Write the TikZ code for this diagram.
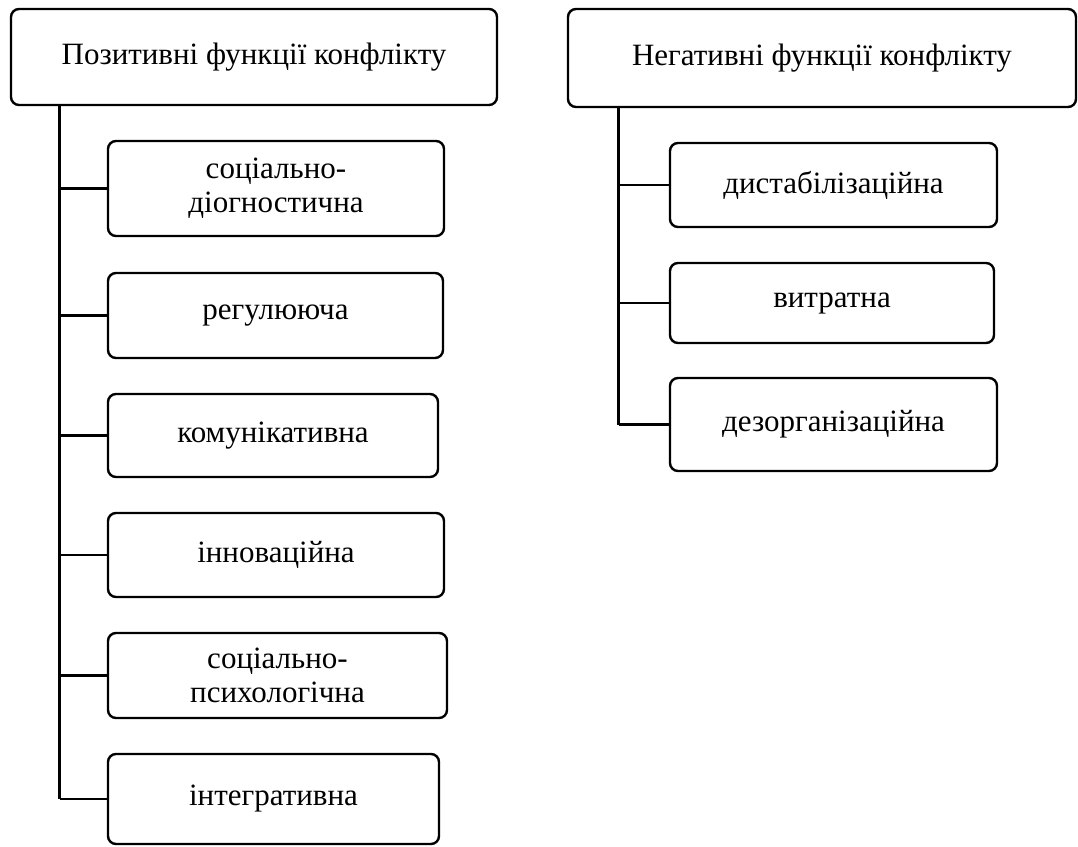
\documentclass[tikz,border=0pt]{standalone}
\usepackage{fontspec}
\setmainfont{Liberation Serif}
\begin{document}
\begin{tikzpicture}[x=1pt,y=-1pt,
  every node/.style={inner sep=0pt},
  fbox/.style={draw=black, line width=2.4pt, rounded corners=8pt, align=center,
    font=\fontsize{31}{34}\selectfont},
  branch/.style={draw=black, line width=2.4pt},
  trunk/.style={draw=black, line width=3pt}]
\useasboundingbox (0,0) rectangle (1078,846);
% top boxes
\node[fbox, minimum width=486pt, minimum height=96pt] (P) at (254,57) {Позитивні функції конфлікту};
\node[fbox, minimum width=508pt, minimum height=98pt] (N) at (822,58) {Негативні функції конфлікту};
% left children
\node[fbox, minimum width=336pt, minimum height=95pt] (c1) at (276,188.5) {соціально-\\діогностична};
\node[fbox, minimum width=335pt, minimum height=85pt] (c2) at (275.5,315.5) {регулююча};
\node[fbox, minimum width=330pt, minimum height=83pt] (c3) at (273,435.5) {комунікативна};
\node[fbox, minimum width=336pt, minimum height=84pt] (c4) at (276,555) {інноваційна};
\node[fbox, minimum width=339pt, minimum height=85pt] (c5) at (277.5,675.5) {соціально-\\психологічна};
\node[fbox, minimum width=331pt, minimum height=90pt] (c6) at (273.5,799) {інтегративна};
% right children
\node[fbox, minimum width=327pt, minimum height=84pt] (d1) at (833.5,185) {дистабілізаційна};
\node[fbox, minimum width=324pt, minimum height=80pt] (d2) at (832,303) {витратна};
\node[fbox, minimum width=327pt, minimum height=93pt] (d3) at (833.5,424.5) {дезорганізаційна};
% trunks
\coordinate (tP) at ([xshift=50pt]P.south west);
\coordinate (tN) at ([xshift=52pt]N.south west);
\draw[trunk] (tP) -- (tP |- c6.west);
\draw[trunk] (tN) -- (tN |- d3.west);
% branches
\foreach \c in {c1,c2,c3,c4,c5,c6} \draw[branch] (\c.west) -- (\c.west -| tP);
\foreach \d in {d1,d2,d3} \draw[branch] (\d.west) -- (\d.west -| tN);
\end{tikzpicture}
\end{document}
